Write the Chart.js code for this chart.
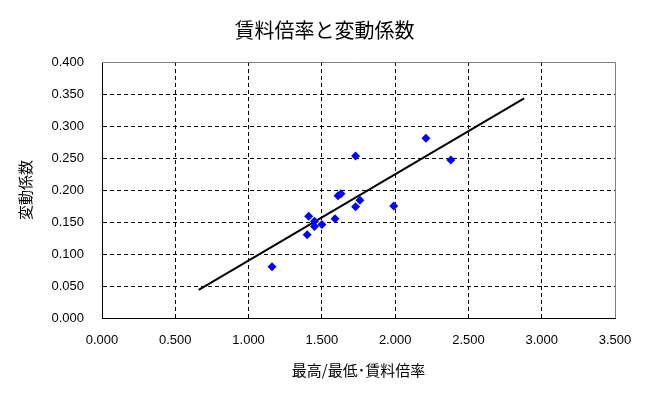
<!DOCTYPE html>
<html>
<head>
<meta charset="utf-8">
<script src="https://cdn.jsdelivr.net/npm/chart.js@4"></script>
<style>
  html, body { margin: 0; padding: 0; background: #ffffff; }
  #wrap { width: 649px; height: 397px; }
</style>
</head>
<body>
<div id="wrap"><canvas id="myChart"></canvas></div>
<script>
// Data //
const ratioValues = [1.16, 1.40, 1.41, 1.45, 1.45, 1.50, 1.59, 1.61, 1.63, 1.73, 1.73, 1.76, 1.99, 2.38, 2.21];
const cvValues = [0.080, 0.130, 0.159, 0.151, 0.143, 0.146, 0.155, 0.191, 0.194, 0.253, 0.174, 0.184, 0.175, 0.247, 0.281];
const trendX = [0.66, 2.88];
const trendY = [0.044, 0.343];

const chartTitle = "賃料倍率と変動係数";
const xTitle = "最高/最低･賃料倍率";
const yTitle = "変動係数";

const fontFamily = "'Liberation Sans', 'Noto Sans CJK JP', sans-serif";
const jpFont = "'Noto Sans CJK JP', sans-serif";

// Build point lists
const points = ratioValues.map((x, i) => ({ x: x, y: cvValues[i] }));
const trendPoints = trendX.map((x, i) => ({ x: x, y: trendY[i] }));

// Gray top/right frame of the plot area
const frameBorder = {
    id: "frameBorder",
    afterDraw(chart) {
        const a = chart.chartArea;
        const ctx = chart.ctx;
        ctx.save();
        ctx.strokeStyle = "#808080";
        ctx.lineWidth = 1;
        ctx.beginPath();
        ctx.moveTo(a.left, a.top + 0.5);
        ctx.lineTo(a.right + 0.5, a.top + 0.5);
        ctx.lineTo(a.right + 0.5, a.bottom);
        ctx.stroke();
        ctx.restore();
    }
};

const gridDash = (maxValue) => (ctx) =>
    ctx.tick && (ctx.tick.value === maxValue || ctx.tick.value === 0) ? "rgba(0,0,0,0)" : "#000000";

const canvas = document.getElementById("myChart");
const myChart = new Chart(canvas.getContext("2d"), {
    data: {
        datasets: [
            {
                type: "scatter",
                label: "変動係数",
                data: points,
                pointStyle: "rectRot",
                pointRadius: 4.5,
                pointHoverRadius: 4.5,
                backgroundColor: "#0000ff",
                borderColor: "#0000ff",
                borderWidth: 0,
                order: 1
            },
            {
                type: "line",
                label: "trend",
                data: trendPoints,
                borderColor: "#000000",
                borderWidth: 2,
                pointRadius: 0,
                tension: 0,
                fill: false,
                order: 2
            }
        ]
    },
    plugins: [frameBorder],
    options: {
        responsive: true,
        maintainAspectRatio: false,
        animation: false,
        layout: { padding: 0 },
        plugins: {
            legend: { display: false },
            tooltip: { enabled: false },
            title: {
                display: true,
                text: chartTitle,
                color: "#000000",
                font: { family: jpFont, size: 20, weight: "normal", lineHeight: 1.2 },
                padding: { top: 18, bottom: 20 }
            }
        },
        scales: {
            x: {
                type: "linear",
                position: "bottom",
                min: 0,
                max: 3.5,
                afterFit(scale) { scale.height = 79; },
                ticks: {
                    stepSize: 0.5,
                    color: "#000000",
                    padding: 15,
                    maxRotation: 0,
                    font: { family: fontFamily, size: 13 },
                    callback: (v) => Number(v).toFixed(3)
                },
                grid: {
                    color: gridDash(3.5),
                    lineWidth: 1,
                    drawTicks: false
                },
                border: { display: true, color: "#000000", width: 1, dash: [4, 3] },
                title: {
                    display: true,
                    text: xTitle,
                    color: "#000000",
                    font: { family: jpFont, size: 15, lineHeight: 1.2 },
                    padding: 18
                }
            },
            y: {
                type: "linear",
                position: "left",
                min: 0,
                max: 0.4,
                afterFit(scale) { scale.width = 102; },
                ticks: {
                    stepSize: 0.05,
                    color: "#000000",
                    padding: 18,
                    font: { family: fontFamily, size: 13 },
                    callback: (v) => Number(v).toFixed(3)
                },
                grid: {
                    color: gridDash(0.4),
                    lineWidth: 1,
                    drawTicks: false
                },
                border: { display: true, color: "#000000", width: 1, dash: [4, 3] },
                title: {
                    display: true,
                    text: yTitle,
                    color: "#000000",
                    font: { family: jpFont, size: 15, lineHeight: 1.2 },
                    padding: 16
                }
            },
            yRight: {
                type: "linear",
                position: "right",
                display: true,
                afterFit(scale) { scale.width = 34; },
                ticks: { display: false },
                grid: { display: false },
                border: { display: false }
            }
        }
    }
});
</script>
</body>
</html>
